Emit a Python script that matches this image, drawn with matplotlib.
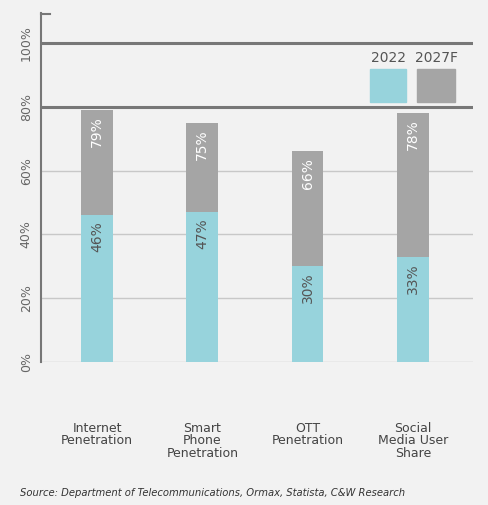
import matplotlib
matplotlib.use("Agg")
import matplotlib.pyplot as plt
from matplotlib.patches import Rectangle

categories = ["Internet\nPenetration", "Smart\nPhone\nPenetration", "OTT\nPenetration", "Social\nMedia User\nShare"]
v2022 = [46, 47, 30, 33]
v2027 = [79, 75, 66, 78]
labels_y = ["0%", "20%", "40%", "60%", "80%", "100%"]
ticks = [0, 20, 40, 60, 80, 100]

fig = plt.figure(figsize=(4.89, 5.05), dpi=100)
fig.patch.set_facecolor("#f2f2f2")
ax = fig.add_axes([41/489, 1-362/505, 432/489, 349/505])
ax.set_facecolor("#f2f2f2")
ax.set_xlim(-0.53, 3.57)
ax.set_ylim(0, 109.4)
x = list(range(len(categories)))
w = 0.30
ax.bar(x, v2027, width=w, color="#a5a5a5", zorder=3)
ax.bar(x, v2022, width=w, color="#97d3dc", zorder=4)
for i in x:
    ax.text(i, v2027[i]-2, f"{v2027[i]}%", rotation=90, ha="center", va="top", color="white", fontsize=10, zorder=5)
    ax.text(i, v2022[i]-2, f"{v2022[i]}%", rotation=90, ha="center", va="top", color="#555555", fontsize=10, zorder=5)
for t in ticks:
    if t in (80, 100):
        ax.axhline(t, color="#777777", lw=2.2, zorder=2)
    else:
        ax.axhline(t, color="#c8c8c8", lw=1, zorder=2)
for s in ["top", "right", "bottom"]:
    ax.spines[s].set_visible(False)
ax.spines["left"].set_color("#777777")
ax.spines["left"].set_linewidth(1.5)
ax.plot([-0.53, -0.44], [109.2, 109.2], color="#777777", lw=1.5, clip_on=False)
ax.set_yticks(ticks)
ax.set_yticklabels(labels_y, rotation=90, va="center", color="#666666", fontsize=9)
ax.tick_params(axis="y", length=0, pad=6)
ax.set_xticks([])
# legend
for px0, px1, lab in [(370, 406, "2022"), (417, 455, "2027F")]:
    x0 = (px0-97)/105.3; x1 = (px1-97)/105.3
    ax.add_patch(Rectangle((x0, (362-102)/3.19), x1-x0, 33/3.19,
                           color="#97d3dc" if lab == "2022" else "#a5a5a5", zorder=5))
    ax.text((x0+x1)/2, (362-65)/3.19, lab, ha="center", va="bottom", fontsize=10, color="#555555")
for i, c in enumerate(categories):
    fig.text((97+105.3*i)/489, 1-422/505, c, ha="center", va="top", fontsize=9, color="#444444", linespacing=0.95)
fig.text(20/489, 1-493/505, "Source: Department of Telecommunications, Ormax, Statista, C&W Research",
         fontsize=7.2, style="italic", color="#333333", va="center")
fig.savefig("out.png", dpi=100, facecolor=fig.get_facecolor())
